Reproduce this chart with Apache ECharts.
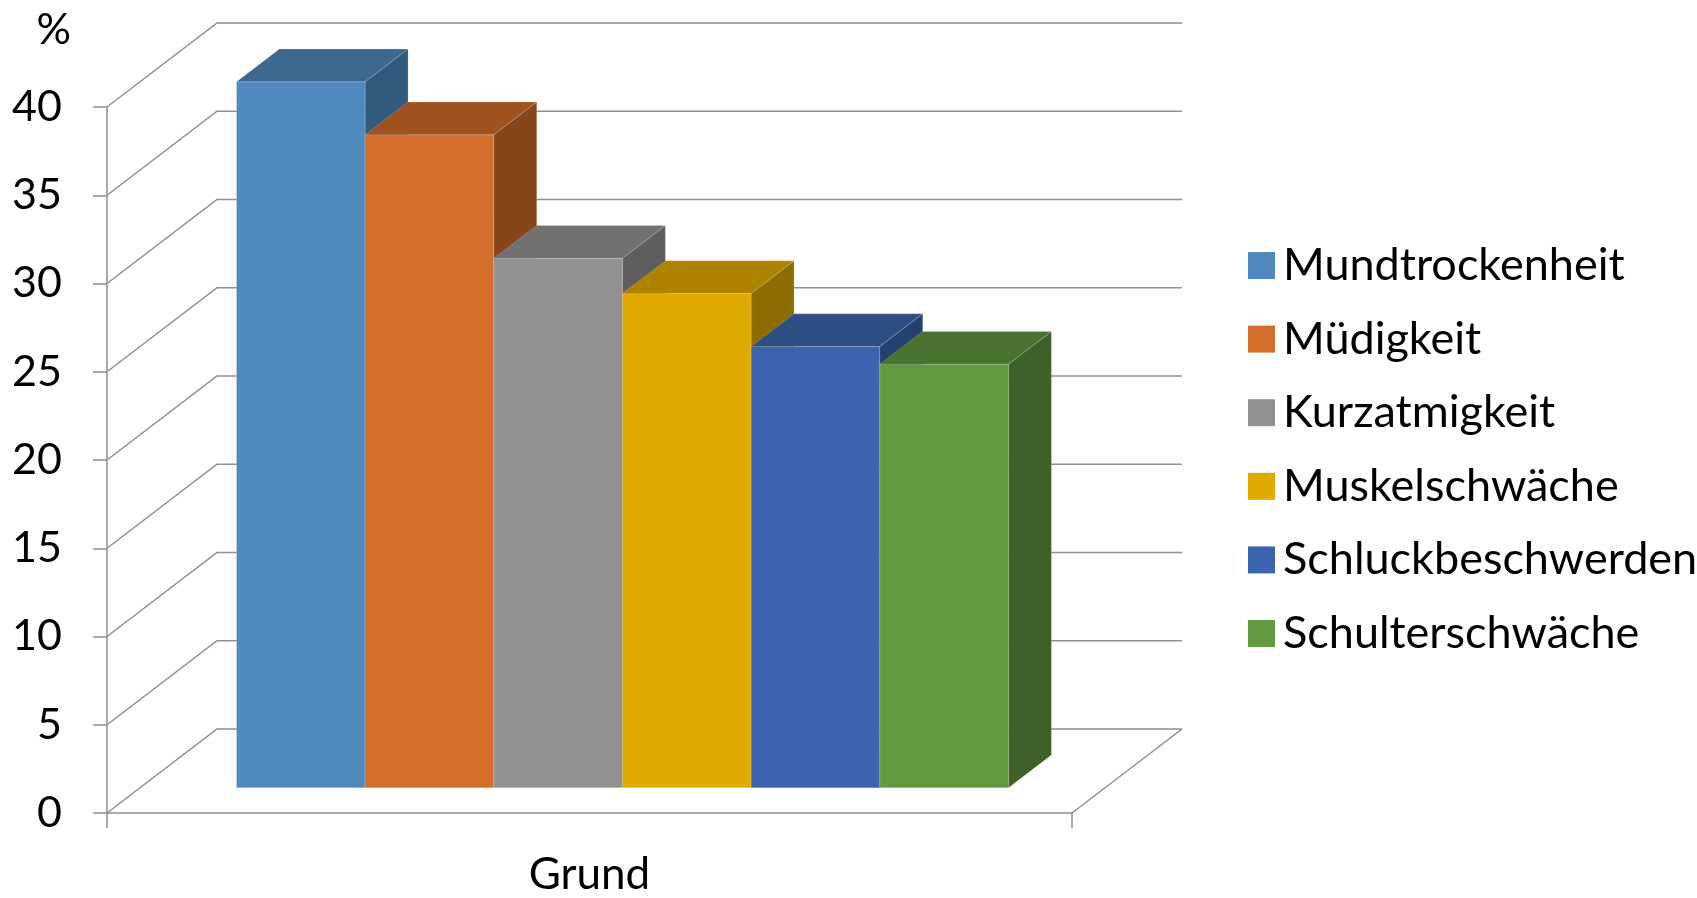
<!DOCTYPE html>
<html>
<head>
<meta charset="utf-8">
<script src="https://cdn.jsdelivr.net/npm/echarts@6/dist/echarts.min.js"></script>
<style>
  html, body { margin: 0; padding: 0; background: #ffffff; }
  #chart { width: 1697px; height: 898px; }
</style>
</head>
<body>
<div id="chart"></div>
<script>
// Chart data
const categories = ['Grund'];
const seriesNames = ['Mundtrockenheit', 'Müdigkeit', 'Kurzatmigkeit', 'Muskelschwäche', 'Schluckbeschwerden', 'Schulterschwäche'];
const seriesValues = [40, 37, 30, 28, 25, 24];
const yTicks = [0, 5, 10, 15, 20, 25, 30, 35, 40];

// Face colours of the 3D columns: front, top, right side
const frontColors = ['#4f88bd', '#d26d2a', '#919191', '#e0aa00', '#3a64ad', '#629a3f'];
const topColors   = ['#3d6890', '#a0521e', '#717171', '#ad8300', '#2d4f84', '#4a732f'];
const sideColors  = ['#325a7d', '#86451a', '#5e5e5e', '#8e6c00', '#24426f', '#3e6129'];

// Oblique projection of the depth axis (pixels) and where the column slab sits in it
const DEPTH_X = 110, DEPTH_Y = -84;
const BAR_FRONT = 0.30, BAR_BACK = 0.69;
const GROUP_WIDTH = 0.8;
const GRID_COLOR = '#8f8f8f';
const FONT = 'Lato';

// Side wall diagonals + back wall lines for every tick value
function renderWall(params, api) {
  const v = api.value(1);
  const c = api.coord([api.value(0), v]);
  const band = api.size([1, 0])[0];
  const x0 = c[0] - band / 2, x1 = c[0] + band / 2;
  const children = [{
    type: 'polyline',
    shape: { points: [[x0, c[1]], [x0 + DEPTH_X, c[1] + DEPTH_Y], [x1 + DEPTH_X, c[1] + DEPTH_Y]] },
    style: { stroke: GRID_COLOR, lineWidth: 1.5, fill: null }
  }];
  if (v === 0) {
    // right edge of the floor
    children.push({
      type: 'line',
      shape: { x1: x1, y1: c[1], x2: x1 + DEPTH_X, y2: c[1] + DEPTH_Y },
      style: { stroke: GRID_COLOR, lineWidth: 1.5 }
    });
  }
  return { type: 'group', children: children };
}

function makeBarRenderer(i) {
  return function (params, api) {
    const cat = api.value(0);
    const v = api.value(1);
    const base = api.coord([cat, 0]);
    const top = api.coord([cat, v]);
    const band = api.size([1, 0])[0];
    const slot = band * GROUP_WIDTH / seriesNames.length;
    const ox = BAR_FRONT * DEPTH_X, oy = BAR_FRONT * DEPTH_Y;
    const bx = (BAR_BACK - BAR_FRONT) * DEPTH_X, by = (BAR_BACK - BAR_FRONT) * DEPTH_Y;
    const xL = base[0] - band / 2 + band * (1 - GROUP_WIDTH) / 2 + i * slot + ox;
    const xR = xL + slot;
    const yT = top[1] + oy, yB = base[1] + oy;
    const edge = 'rgba(255,255,255,0.18)';
    return {
      type: 'group',
      children: [
        { type: 'polygon', shape: { points: [[xL, yB], [xL, yT], [xR, yT], [xR, yB]] },
          style: { fill: frontColors[i], stroke: edge, lineWidth: 1 } },
        { type: 'polygon', shape: { points: [[xL, yT], [xL + bx, yT + by], [xR + bx, yT + by], [xR, yT]] },
          style: { fill: topColors[i], stroke: edge, lineWidth: 1 } },
        { type: 'polygon', shape: { points: [[xR, yT], [xR + bx, yT + by], [xR + bx, yB + by], [xR, yB]] },
          style: { fill: sideColors[i], stroke: edge, lineWidth: 1 } }
      ]
    };
  };
}

const series = [{
  type: 'custom',
  name: 'walls',
  z: 1,
  silent: true,
  renderItem: renderWall,
  encode: { x: 0, y: 1 },
  data: yTicks.map(t => [0, t])
}];
seriesNames.forEach((name, i) => {
  series.push({
    type: 'custom',
    name: name,
    z: 2,
    itemStyle: { color: frontColors[i] },
    renderItem: makeBarRenderer(i),
    encode: { x: 0, y: 1 },
    data: [[0, seriesValues[i]]]
  });
});

const chart = echarts.init(document.getElementById('chart'), null, { renderer: 'canvas' });
chart.setOption({
  backgroundColor: '#ffffff',
  animation: false,
  textStyle: { fontFamily: FONT },
  grid: { left: 107, right: 625, top: 107, bottom: 85, containLabel: false },
  legend: {
    orient: 'vertical',
    left: 1243,
    top: 238,
    icon: 'rect',
    itemWidth: 27,
    itemHeight: 27,
    itemGap: 28.6,
    data: seriesNames,
    selectedMode: false,
    textStyle: { fontFamily: FONT, fontSize: 45, color: '#000', padding: [0, 0, 0, 3] }
  },
  xAxis: {
    type: 'category',
    data: categories,
    boundaryGap: true,
    axisLine: { show: true, lineStyle: { color: GRID_COLOR, width: 1.5 } },
    axisTick: { show: true, length: 15, lineStyle: { color: GRID_COLOR, width: 1.5 } },
    axisLabel: { fontFamily: FONT, fontSize: 44, color: '#000', margin: 40 },
    splitLine: { show: false }
  },
  yAxis: {
    type: 'value',
    min: 0,
    max: 40,
    interval: 5,
    name: '%',
    nameLocation: 'end',
    nameGap: 55,
    nameTextStyle: { fontFamily: FONT, fontSize: 43, color: '#000', align: 'right', padding: [0, 36, 0, 0] },
    axisLine: { show: true, lineStyle: { color: GRID_COLOR, width: 1.5 } },
    axisTick: { show: true, length: 14, lineStyle: { color: GRID_COLOR, width: 1.5 } },
    axisLabel: { fontFamily: FONT, fontSize: 43, color: '#000', margin: 45 },
    splitLine: { show: false }
  },
  series: series
});
</script>
</body>
</html>
